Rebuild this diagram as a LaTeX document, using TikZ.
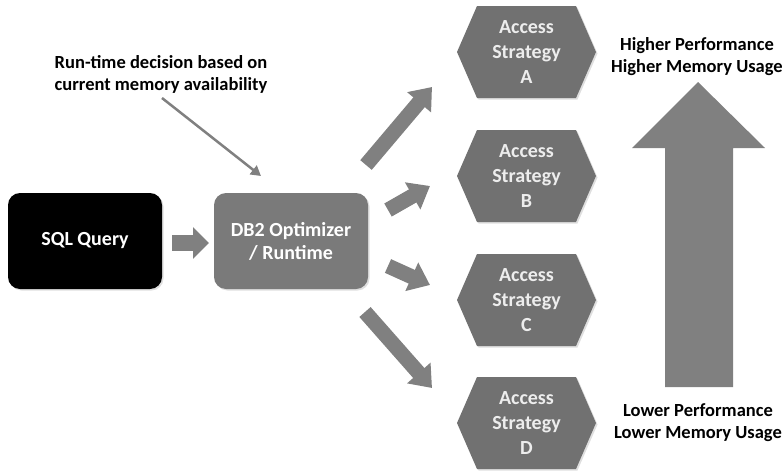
\documentclass[tikz,border=0pt]{standalone}
\usepackage{fontspec}
\setmainfont{Carlito}
\usetikzlibrary{arrows.meta,shadows}
\definecolor{boxgray}{HTML}{7A7A7A}
\definecolor{hexgray}{HTML}{717171}
\definecolor{arrgray}{HTML}{808080}
\definecolor{hextext}{HTML}{EDEDED}
\begin{document}
\begin{tikzpicture}[x=1pt,y=-1pt,
  box/.style={rounded corners=12pt, minimum width=154pt, minimum height=96pt,
    font=\fontsize{20}{23}\selectfont\bfseries, text=white, align=center,
    drop shadow={opacity=0.25,shadow xshift=1.5pt,shadow yshift=-1.5pt}},
  hexshape/.style={fill=hexgray, drop shadow={opacity=0.25,shadow xshift=1.5pt,shadow yshift=-1.5pt}},
  hexlabel/.style={font=\fontsize{20}{25}\selectfont\bfseries, text=hextext, align=center},
  label/.style={font=\fontsize{18.5}{22}\selectfont\bfseries, align=center},
  blockarrow/.style={line width=15pt, draw=arrgray, -{Triangle[width=30pt,length=20pt]}},
  thinarrow/.style={line width=2.5pt, draw=arrgray, -{Triangle[width=11pt,length=10pt]}}]
\useasboundingbox (0,0) rectangle (784,471);

% left boxes
\node[box, fill=black] (sql) at (85,241) {SQL Query};
\node[box, fill=boxgray] (db2) at (291,241) {DB2 Optimizer\\/ Runtime};
\coordinate (s1) at (172,243);
\coordinate (s2) at (209,243);
\draw[blockarrow, line width=16pt, -{Triangle[width=31pt,length=16pt]}] (s1) -- (s2);

% annotation
\node[label] (note) at (161,74) {Run-time decision based on\\current memory availability};
\coordinate (n1) at (162,98);
\coordinate (n2) at (261,176);
\draw[thinarrow] (n1) -- (n2);

% hexagons
\foreach \n/\cy in {A/52,B/176,C/300,D/423}{
  \path[hexshape] (457,\cy) -- (477,\cy-46) -- (576,\cy-46) -- (596,\cy) -- (576,\cy+46) -- (477,\cy+46) -- cycle;
  \node[hexlabel] (hex\n) at (526.5,\cy) {Access\\Strategy\\\n};
}

% fan-out arrows
\coordinate (a1) at (366,165); \coordinate (a2) at (432,87);
\coordinate (b1) at (388,210); \coordinate (b2) at (430,186);
\coordinate (c1) at (388,266); \coordinate (c2) at (430,285);
\coordinate (d1) at (365,312); \coordinate (d2) at (432,388);
\draw[blockarrow] (a1) -- (a2);
\draw[blockarrow] (b1) -- (b2);
\draw[blockarrow] (c1) -- (c2);
\draw[blockarrow] (d1) -- (d2);

% big arrow
\fill[arrgray] (698,82) -- (765,148) -- (733,148) -- (733,387) -- (665,387) -- (665,148) -- (632,148) -- cycle;

\node[label] (high) at (697,57) {Higher Performance\\Higher Memory Usage};
\node[label] (low) at (698,423) {Lower Performance\\Lower Memory Usage};
\end{tikzpicture}
\end{document}
